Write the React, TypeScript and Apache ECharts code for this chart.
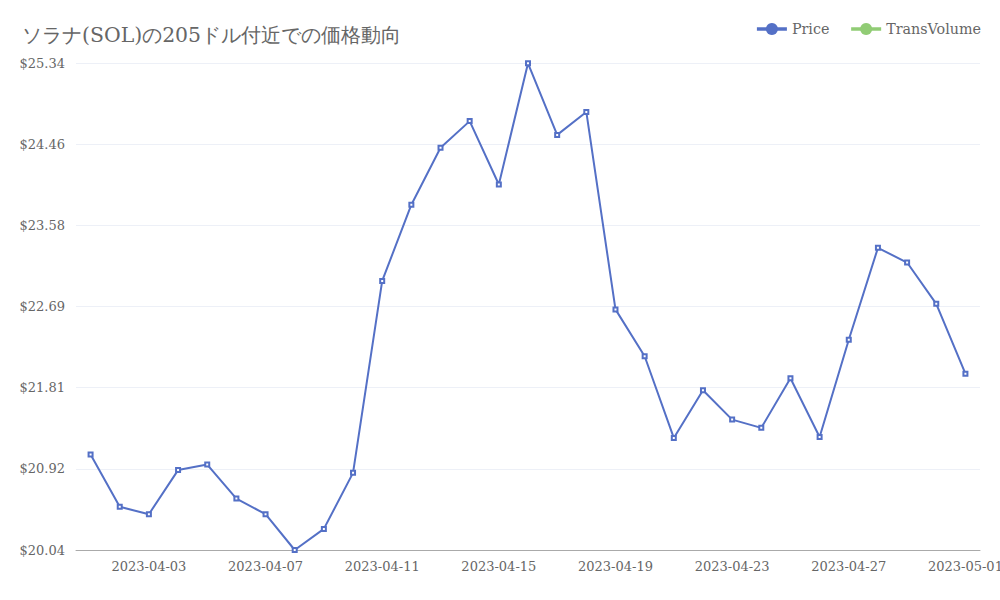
import React, { useEffect, useRef } from "react";
import * as echarts from "echarts";

const TITLE = "ソラナ(SOL)の205ドル付近での価格動向";

const dates = [
  "2023-04-01", "2023-04-02", "2023-04-03", "2023-04-04", "2023-04-05", "2023-04-06",
  "2023-04-07", "2023-04-08", "2023-04-09", "2023-04-10", "2023-04-11", "2023-04-12",
  "2023-04-13", "2023-04-14", "2023-04-15", "2023-04-16", "2023-04-17", "2023-04-18",
  "2023-04-19", "2023-04-20", "2023-04-21", "2023-04-22", "2023-04-23", "2023-04-24",
  "2023-04-25", "2023-04-26", "2023-04-27", "2023-04-28", "2023-04-29", "2023-04-30",
  "2023-05-01",
];

const price = [
  21.08, 20.51, 20.43, 20.91, 20.97, 20.6, 20.43, 20.04, 20.27, 20.88, 22.97, 23.8,
  24.42, 24.71, 24.02, 25.34, 24.56, 24.81, 22.66, 22.15, 21.26, 21.78, 21.46, 21.37,
  21.91, 21.27, 22.33, 23.33, 23.17, 22.72, 21.96,
];

const transVolume: number[] = [];

// y axis tick labels: min and step of the displayed scale
const yMin = 20.04;
const yStep = 0.8838;
const ySteps = 6;

export default function App() {
  const ref = useRef<HTMLDivElement>(null);
  useEffect(() => {
    if (!ref.current) return;
    const chart = echarts.init(ref.current, undefined, { renderer: "svg" });
    const font = "'DejaVu Serif', serif";
    chart.setOption({
      animation: false,
      textStyle: { fontFamily: font },
      title: {
        text: TITLE,
        left: 17,
        top: 20,
        textStyle: { fontFamily: font, fontSize: 20.4, fontWeight: "normal", color: "#666" },
      },
      legend: {
        right: 14,
        top: 17,
        itemWidth: 30,
        itemHeight: 15,
        itemGap: 20,
        lineStyle: { width: 3.5 },
        textStyle: { fontFamily: font, fontSize: 14.3, color: "#666" },
        data: ["Price", "TransVolume"],
      },
      grid: {
        left: 76,
        right: 20,
        top: 63,
        bottom: 50,
        containLabel: false,
        outerBoundsMode: "none",
      },
      xAxis: {
        type: "category",
        data: dates,
        boundaryGap: true,
        axisLine: { lineStyle: { color: "#aaa" } },
        axisTick: { interval: 3, lineStyle: { color: "#aaa" } },
        axisLabel: {
          interval: (idx: number) => idx % 4 === 2,
          fontFamily: font,
          fontSize: 13,
          color: "#666",
          margin: 10,
        },
      },
      yAxis: [
        {
          type: "value",
          min: yMin,
          max: yMin + yStep * ySteps,
          show: false,
          splitLine: { show: false },
        },
        {
          type: "value",
          position: "left",
          min: 0,
          max: ySteps,
          interval: 1,
          axisLine: { show: false },
          axisTick: { show: false },
          axisLabel: {
            fontFamily: font,
            fontSize: 13,
            color: "#666",
            margin: 11,
            formatter: (v: number) => "$" + (yMin + v * yStep).toFixed(2),
          },
          splitLine: { lineStyle: { color: "#edf0f7" } },
        },
      ],
      series: [
        {
          name: "Price",
          type: "line",
          yAxisIndex: 0,
          data: price.map((v) => ({
            value: v,
            symbol: "emptyRect",
            symbolSize: 4,
            itemStyle: { borderWidth: 1 },
          })),
          symbol: "circle",
          symbolSize: 4,
          itemStyle: { color: "#5470c6" },
          lineStyle: { width: 2, color: "#5470c6" },
        },
        {
          name: "TransVolume",
          type: "line",
          yAxisIndex: 0,
          data: transVolume,
          symbol: "circle",
          itemStyle: { color: "#91cc75" },
          lineStyle: { width: 2, color: "#91cc75" },
        },
      ],
    });
    return () => chart.dispose();
  }, []);
  return <div ref={ref} style={{ width: 1000, height: 600, position: "absolute", left: 0, top: 0 }} />;
}
